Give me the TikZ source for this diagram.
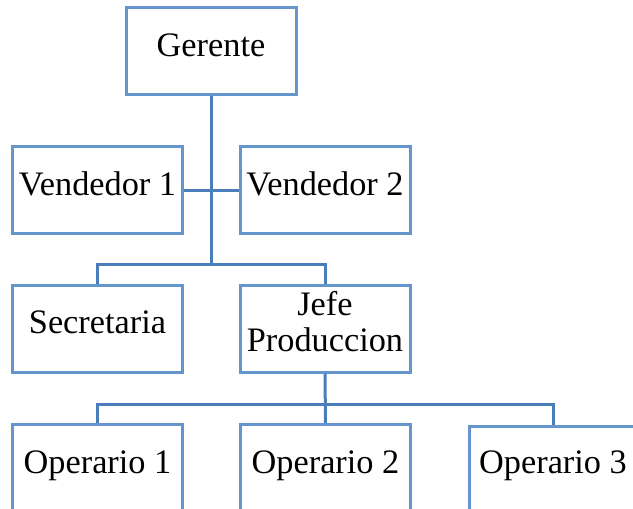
\documentclass[tikz,border=0pt]{standalone}
\usepackage{fontspec}
\setmainfont{Liberation Serif}
\definecolor{boxline}{RGB}{100,150,205}
\definecolor{linkline}{RGB}{74,126,187}
\begin{document}
\begin{tikzpicture}[x=1pt,y=-1pt,
  orgbox/.style={draw=boxline,line width=3pt,minimum width=170pt,minimum height=87pt,inner sep=0pt,fill=white},
  lbl/.style={anchor=base,inner sep=0pt,font=\fontsize{34.3}{36}\selectfont},
  link/.style={draw=linkline,line width=3pt}]
\useasboundingbox (0,0) rectangle (633,509);
\clip (0,0) rectangle (633,509);
% boxes (the last one runs past the right edge)
\node[orgbox] (ger) at (211,51) {};
\node[orgbox] (ven1) at (97.5,190) {};
\node[orgbox] (ven2) at (325,190) {};
\node[orgbox] (sec) at (97.5,329) {};
\node[orgbox] (jefe) at (325,329) {};
\node[orgbox] (op1) at (97.5,468) {};
\node[orgbox] (op2) at (325.5,468) {};
\node[orgbox,anchor=north west] (op3) at (468,424.5) {};
% junction points
\coordinate (hubA) at (211,264);
\coordinate (hubB) at (325.5,404);
\coordinate (op3top) at (553,424.5);
% connectors
\draw[link] (ger.south) -- (hubA);
\draw[link] (ven1.east) -- (ven2.west);
\draw[link] (sec.north) |- (hubA) -| (jefe.north);
\draw[link] (jefe.south) -- (op2.north);
\draw[link] (op1.north) |- (hubB) -| (op3top);
% labels
\node[lbl] (tger) at ([yshift=-5.5pt]ger.center) {Gerente};
\node[lbl] (tven1) at ([yshift=-5.5pt]ven1.center) {Vendedor 1};
\node[lbl] (tven2) at ([yshift=-5.5pt]ven2.center) {Vendedor 2};
\node[lbl] (tsec) at ([yshift=-4.5pt]sec.center) {Secretaria};
\node[lbl] (tjefe1) at ([yshift=13.3pt]jefe.center) {Jefe};
\node[lbl] (tjefe2) at ([yshift=-22.7pt]jefe.center) {Produccion};
\node[lbl] (top1) at ([yshift=-5.3pt]op1.center) {Operario 1};
\node[lbl] (top2) at ([yshift=-5.3pt]op2.center) {Operario 2};
\node[lbl] (top3) at (553,473.3) {Operario 3};
\end{tikzpicture}
\end{document}
